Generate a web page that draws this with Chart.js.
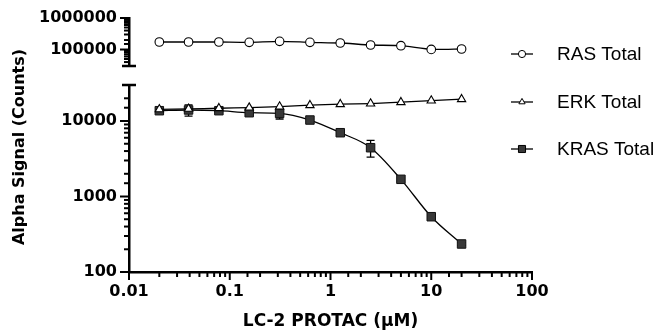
<!DOCTYPE html>
<html>
<head>
<meta charset="utf-8">
<script src="https://cdn.jsdelivr.net/npm/chart.js@4"></script>
<style>
  html, body { margin: 0; padding: 0; background: #fff; }
  canvas { display: block; }
</style>
</head>
<body>
<canvas id="myChart" width="662" height="332"></canvas>
<script>
// doses (µM) and measured signals
const doses = [0.02, 0.039, 0.078, 0.156, 0.3125, 0.625, 1.25, 2.5, 5, 10, 20];
const rasTotal = [173000, 173000, 173000, 169000, 182000, 169000, 161000, 139000, 132000, 101000, 104000];
const erkTotal = [14300, 14500, 14770, 15030, 15520, 16200, 16700, 17020, 17750, 18650, 19450];
const krasTotal = [13700, 14000, 13700, 12880, 12640, 10310, 7000, 4430, 1690, 540, 235];
const krasError = [300, 2400, 400, 500, 2000, 400, 400, 1100, 100, 30, 10];
const seriesNames = ["RAS Total", "ERK Total", "KRAS Total"];
const xTickLabels = ["0.01", "0.1", "1", "10", "100"];
const yTickLabels = ["100", "1000", "10000", "100000", "1000000"];

const tickFont = { family: '"DejaVu Sans"', weight: "bold", size: 16 };
const titleFont = 'bold 16px "DejaVu Sans"';

function isDecade(v) {
  const l = Math.log10(v);
  return Math.abs(l - Math.round(l)) < 1e-6;
}

function labelFor(list) {
  return function (value) {
    const hit = list.find((s) => Math.abs(Number(s) - value) < Number(s) * 1e-6);
    return hit || "";
  };
}

function toPoints(values) {
  return doses.map((d, i) => ({ x: d, y: values[i] }));
}

function markerPath(ctx, style, x, y, r) {
  ctx.beginPath();
  if (style === "circle") {
    ctx.arc(x, y, r, 0, Math.PI * 2);
  } else if (style === "triangle") {
    ctx.moveTo(x, y - r);
    ctx.lineTo(x + r * 0.866, y + r / 2);
    ctx.lineTo(x - r * 0.866, y + r / 2);
    ctx.closePath();
  } else {
    const s = r * Math.SQRT1_2;
    ctx.rect(x - s, y - s, 2 * s, 2 * s);
  }
}

const decorations = {
  id: "decorations",
  beforeDatasetsDraw(chart) {
    // KRAS error bars
    const { ctx } = chart;
    const x = chart.scales.x;
    const yBot = chart.scales.yBot;
    ctx.save();
    ctx.strokeStyle = "#000";
    ctx.lineWidth = 1.3;
    doses.forEach((d, i) => {
      const px = x.getPixelForValue(d);
      const top = yBot.getPixelForValue(krasTotal[i] + krasError[i]);
      const bot = yBot.getPixelForValue(krasTotal[i] - krasError[i]);
      ctx.beginPath();
      ctx.moveTo(px, top);
      ctx.lineTo(px, bot);
      ctx.moveTo(px - 4, top);
      ctx.lineTo(px + 4, top);
      ctx.moveTo(px - 4, bot);
      ctx.lineTo(px + 4, bot);
      ctx.stroke();
    });
    ctx.restore();
  },
  afterDraw(chart) {
    const { ctx } = chart;
    const x = chart.scales.x;
    const yTop = chart.scales.yTop;
    const yBot = chart.scales.yBot;
    ctx.save();
    ctx.strokeStyle = "#000";
    ctx.lineWidth = 2;

    // tick marks
    x.ticks.forEach((t) => {
      const px = x.getPixelForValue(t.value);
      const len = isDecade(t.value) ? 8 : 5;
      ctx.beginPath();
      ctx.moveTo(px, x.top);
      ctx.lineTo(px, x.top + len);
      ctx.stroke();
    });
    [yTop, yBot].forEach((s) => {
      s.ticks.forEach((t) => {
        const py = s.getPixelForValue(t.value);
        const len = isDecade(t.value) ? 9 : 5;
        ctx.beginPath();
        ctx.moveTo(s.right, py);
        ctx.lineTo(s.right - len, py);
        ctx.stroke();
      });
    });

    // axis break caps
    ctx.lineWidth = 2.5;
    ctx.beginPath();
    ctx.moveTo(yTop.right - 7, yTop.bottom);
    ctx.lineTo(yTop.right + 7, yTop.bottom);
    ctx.moveTo(yBot.right - 7, yBot.top);
    ctx.lineTo(yBot.right + 7, yBot.top);
    ctx.stroke();

    // y title spanning both segments
    ctx.save();
    ctx.translate(20, (yTop.top + yBot.bottom) / 2 + 2);
    ctx.rotate(-Math.PI / 2);
    ctx.font = titleFont;
    ctx.fillStyle = "#000";
    ctx.textAlign = "center";
    ctx.textBaseline = "middle";
    ctx.fillText("Alpha Signal (Counts)", 0, 0);
    ctx.restore();

    // legend
    const rows = [54, 102, 149];
    ctx.font = '19px "Liberation Sans"';
    ctx.textAlign = "left";
    ctx.textBaseline = "middle";
    chart.data.datasets.forEach((ds, i) => {
      const y = rows[i];
      ctx.lineWidth = 1.3;
      ctx.strokeStyle = "#000";
      ctx.beginPath();
      ctx.moveTo(511, y);
      ctx.lineTo(533, y);
      ctx.stroke();
      markerPath(ctx, ds.pointStyle, 522, y, ds.pointStyle === "rect" ? 5 : 3.6);
      ctx.fillStyle = ds.pointBackgroundColor;
      ctx.fill();
      ctx.lineWidth = 1;
      ctx.stroke();
      ctx.fillStyle = "#000";
      ctx.fillText(ds.label, 557, y + 1);
    });
    ctx.restore();
  },
};

const ctx = document.getElementById("myChart");

new Chart(ctx, {
  type: "line",
  data: {
    datasets: [
      {
        label: seriesNames[0],
        data: toPoints(rasTotal),
        yAxisID: "yTop",
        borderColor: "#000",
        borderWidth: 1.3,
        pointStyle: "circle",
        pointRadius: 4.3,
        pointBorderWidth: 1.1,
        pointBackgroundColor: "#fff",
        pointBorderColor: "#000",
        tension: 0.2,
      },
      {
        label: seriesNames[1],
        data: toPoints(erkTotal),
        yAxisID: "yBot",
        borderColor: "#000",
        borderWidth: 1.3,
        pointStyle: "triangle",
        pointRadius: 4.8,
        pointBorderWidth: 1.1,
        pointBackgroundColor: "#fff",
        pointBorderColor: "#000",
        tension: 0.2,
      },
      {
        label: seriesNames[2],
        data: toPoints(krasTotal),
        yAxisID: "yBot",
        borderColor: "#000",
        borderWidth: 1.3,
        pointStyle: "rect",
        pointRadius: 6,
        pointBorderWidth: 1,
        pointBackgroundColor: "#383838",
        pointBorderColor: "#111",
        cubicInterpolationMode: "monotone",
      },
    ],
  },
  options: {
    responsive: false,
    animation: false,
    devicePixelRatio: 1,
    layout: { padding: { top: 18, right: 130, left: 0, bottom: 0 } },
    plugins: {
      legend: { display: false },
      tooltip: { enabled: false },
    },
    scales: {
      x: {
        type: "logarithmic",
        position: "bottom",
        min: 0.01,
        max: 100,
        afterFit(scale) {
          scale.height = 60;
        },
        border: { color: "#000", width: 2.5 },
        grid: { drawOnChartArea: false, tickLength: 8, tickColor: "transparent" },
        ticks: {
          autoSkip: false,
          maxRotation: 0,
          color: "#000",
          font: tickFont,
          padding: 2,
          callback: labelFor(xTickLabels),
        },
        title: {
          display: true,
          text: "LC-2 PROTAC (µM)",
          color: "#000",
          font: { family: '"DejaVu Sans"', weight: "bold", size: 17 },
          padding: 0,
        },
      },
      yBot: {
        type: "logarithmic",
        position: "left",
        stack: "y",
        stackWeight: 187,
        min: 100,
        max: 30000,
        afterFit(scale) {
          scale.width = 129;
        },
        border: { color: "#000", width: 2.5 },
        grid: { drawOnChartArea: false, tickLength: 9, tickColor: "transparent" },
        ticks: {
          autoSkip: false,
          color: "#000",
          font: tickFont,
          padding: 3,
          callback: labelFor(yTickLabels),
        },
      },
      yGap: {
        type: "linear",
        position: "left",
        stack: "y",
        stackWeight: 19,
        display: false,
      },
      yTop: {
        type: "logarithmic",
        position: "left",
        stack: "y",
        stackWeight: 48,
        min: 30000,
        max: 1000000,
        afterFit(scale) {
          scale.width = 129;
        },
        border: { color: "#000", width: 2.5 },
        grid: { drawOnChartArea: false, tickLength: 9, tickColor: "transparent" },
        ticks: {
          autoSkip: false,
          color: "#000",
          font: tickFont,
          padding: 3,
          callback: labelFor(yTickLabels),
        },
      },
    },
  },
  plugins: [decorations],
});
</script>
</body>
</html>
